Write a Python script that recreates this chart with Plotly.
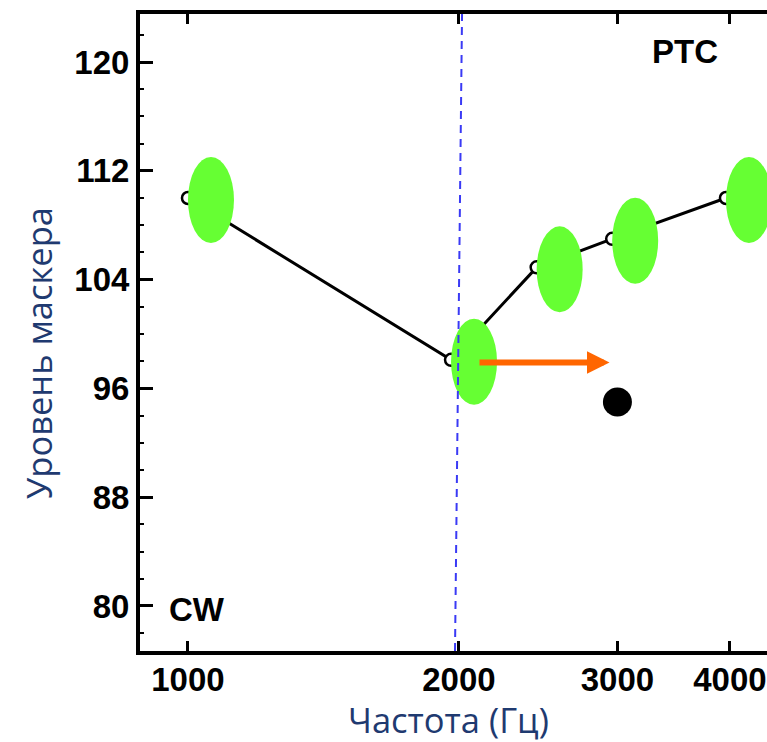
import math
import plotly.graph_objects as go

# ---- data ----
freq = [1000, 1960, 2440, 2960, 3960]          # Hz
level = [110, 98.1, 104.9, 107.0, 110.0]        # masker level
dot_freq = [3000]
dot_level = [95.0]
arrow_from = (2100, 97.9)
arrow_to = (2940, 97.9)
cf_line = 2000
x_ticks = [1000, 2000, 3000, 4000]
y_ticks = [80, 88, 96, 104, 112, 120]

W, H = 767, 742
ML, MT, MB, MR = 140, 14, 91, 0

fig = go.Figure()

fig.add_trace(go.Scatter(
    x=freq, y=level, mode="lines+markers",
    line=dict(color="black", width=3),
    marker=dict(symbol="circle", size=12, color="white",
                line=dict(color="black", width=2.5)),
    showlegend=False, hoverinfo="skip"))

fig.add_trace(go.Scatter(
    x=dot_freq, y=dot_level, mode="markers",
    marker=dict(symbol="circle", size=29, color="black"),
    showlegend=False, hoverinfo="skip"))

shapes = []
for fx, ly in zip(freq, level):
    shapes.append(dict(
        type="circle", xref="x", yref="y",
        xsizemode="pixel", ysizemode="pixel",
        xanchor=fx, yanchor=ly,
        x0=-4, x1=46, y0=-45, y1=41,
        fillcolor="#66FF33", line=dict(width=0), layer="above"))

shapes.append(dict(
    type="line", xref="x", yref="paper",
    x0=cf_line * 0.99, x1=cf_line * 1.008, y0=0, y1=1,
    line=dict(color="#3A3AF5", width=2, dash="8px,6px"), layer="above"))

fig.update_layout(shapes=shapes)

fig.add_annotation(
    x=math.log10(arrow_to[0]), y=arrow_to[1],
    ax=math.log10(arrow_from[0]), ay=arrow_from[1],
    xref="x", yref="y", axref="x", ayref="y",
    text="", showarrow=True, arrowhead=2, arrowsize=0.75,
    arrowwidth=6, arrowcolor="#FF6600", standoff=0)

label_font = dict(family="Liberation Sans, Arial", size=33, color="black", weight="bold")
fig.add_annotation(text="PTC", xref="paper", yref="paper",
                   x=(685 - ML) / (W - ML - MR), y=(H - MB - 52) / (H - MT - MB),
                   xanchor="center", yanchor="middle", showarrow=False, font=label_font)
fig.add_annotation(text="CW", xref="paper", yref="paper",
                   x=(197 - ML) / (W - ML - MR), y=(H - MB - 609) / (H - MT - MB),
                   xanchor="center", yanchor="middle", showarrow=False, font=label_font)

title_font = dict(family="Open Sans, Noto Sans, sans-serif", size=34.5, color="#1F3A70")
fig.add_annotation(text="Частота (Гц)", xref="paper", yref="paper",
                   x=(448 - ML) / (W - ML - MR), y=(H - MB - 719) / (H - MT - MB),
                   xanchor="center", yanchor="middle", showarrow=False, font=title_font)
fig.add_annotation(text="Уровень маскера", xref="paper", yref="paper",
                   x=(38 - ML) / (W - ML - MR), y=(H - MB - 353) / (H - MT - MB),
                   xanchor="center", yanchor="middle", textangle=-90,
                   showarrow=False, font=title_font)

tick_font = dict(family="Liberation Sans, Arial", size=33,
                 color="black", weight="bold")

fig.update_xaxes(
    type="log", range=[2.9467, 3.6433],
    tickvals=x_ticks, ticktext=[str(v) for v in x_ticks],
    ticks="inside", ticklen=10, tickwidth=2.5, tickcolor="black",
    showline=True, linewidth=4, linecolor="black", mirror="ticks",
    showgrid=False, zeroline=False, tickfont=tick_font,
    ticklabelstandoff=-4, ticklabeloverflow="allow")

fig.update_yaxes(
    range=[76.69, 123.53],
    tickvals=y_ticks, ticktext=[str(v) for v in y_ticks],
    ticks="inside", ticklen=13, tickwidth=2.5, tickcolor="black",
    minor=dict(dtick=2, ticks="inside", ticklen=4, tickwidth=1.5, tickcolor="black"),
    showline=True, linewidth=4, linecolor="black", mirror=False,
    showgrid=False, zeroline=False, tickfont=tick_font, ticklabelstandoff=0)

fig.update_layout(
    width=W, height=H,
    margin=dict(l=ML, r=MR, t=MT, b=MB),
    paper_bgcolor="white", plot_bgcolor="white",
    showlegend=False)

fig.write_html("out.html")
